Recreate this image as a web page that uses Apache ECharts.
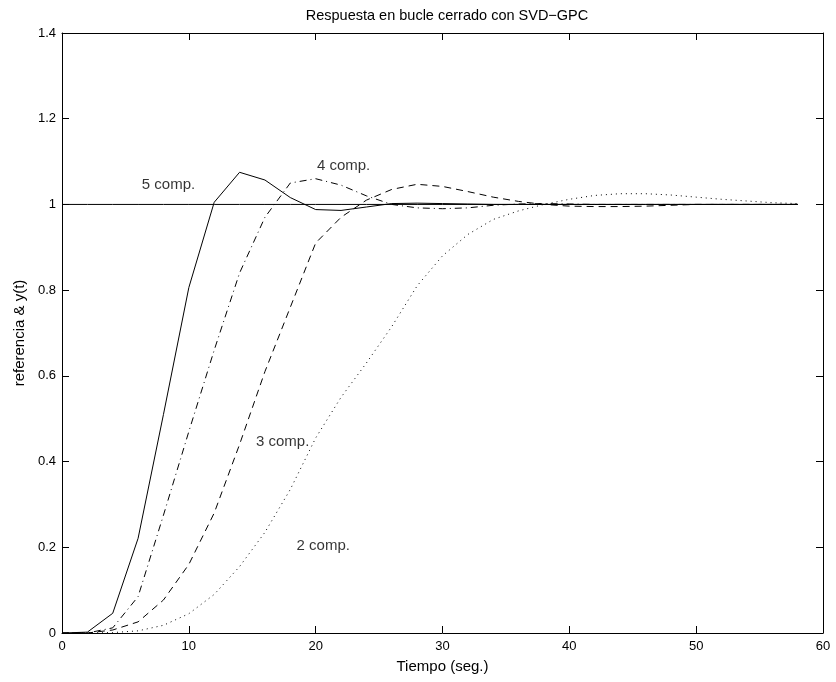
<!DOCTYPE html>
<html><head><meta charset="utf-8">
<script src="https://cdn.jsdelivr.net/npm/echarts@6/dist/echarts.min.js"></script>
<style>html,body{margin:0;padding:0;background:#fff}#c{width:836px;height:682px}</style>
</head><body><div id="c"></div>
<script>
const titleText = 'Respuesta en bucle cerrado con SVD\u2212GPC';
const xLabel = 'Tiempo (seg.)';
const yLabel = 'referencia & y(t)';
const time = [0,2,4,6,8,10,12,14,16,18,20,22,24,26,28,30,32,34,36,38,40,42,44,46,48,50,52,54,56,58];
const reference = [1,1,1,1,1,1,1,1,1,1,1,1,1,1,1,1,1,1,1,1,1,1,1,1,1,1,1,1,1,1];
const comp5 = [0,0.002,0.046,0.221,0.51,0.806,1.005,1.075,1.057,1.016,0.988,0.986,0.994,1.002,1.003,1.002,1.001,1.0,1.0,1.0,1.0,1.0,1.0,1.0,1.0,1.0,1.0,1.0,1.0,1.0];
const comp4 = [0,0,0.012,0.085,0.275,0.47,0.66,0.84,0.97,1.05,1.06,1.045,1.02,1.0,0.992,0.99,0.992,0.998,1.001,1.002,1.001,1.0,1.0,1.0,1.0,1.0,1.0,1.0,1.0,1.0];
const comp3 = [0,0,0.007,0.026,0.077,0.16,0.28,0.44,0.61,0.76,0.91,0.97,1.01,1.035,1.047,1.042,1.03,1.017,1.007,1.0,0.996,0.995,0.995,0.996,0.998,1.0,1.0,1.0,1.0,1.0];
const comp2 = [0,0,0.001,0.005,0.018,0.045,0.09,0.155,0.235,0.335,0.455,0.55,0.63,0.715,0.81,0.88,0.93,0.965,0.985,1.0,1.012,1.021,1.025,1.025,1.022,1.017,1.012,1.008,1.004,1.002];
const annotations = [
  {text:'5 comp.', t:8.4, v:1.045},
  {text:'4 comp.', t:22.2, v:1.089},
  {text:'3 comp.', t:17.4, v:0.447},
  {text:'2 comp.', t:20.6, v:0.204}
];
const xTicks = {min:0, max:60, interval:10};
const yTicks = {min:0, max:1.4, interval:0.2};

const font = 'Liberation Sans, Arial, Helvetica, sans-serif';
const pair = arr => time.map((t,i)=>[t,arr[i]]);
const lineSeries = (name, arr, type) => ({
  name, type:'line', data:pair(arr), symbol:'none', animation:false,
  lineStyle:{color:'#000', width:1, type:type}, z:3
});
const chart = echarts.init(document.getElementById('c'));
const axisCommon = {
  axisLine:{show:true, onZero:false, lineStyle:{color:'#000', width:1}},
  axisTick:{show:true, inside:true, length:7, lineStyle:{color:'#000'}},
  splitLine:{show:false},
};
chart.setOption({
  animation:false,
  backgroundColor:'#fff',
  title:{text:titleText, left:442, top:3, textAlign:'center',
    textStyle:{fontFamily:font, fontSize:14.5, fontWeight:'normal', color:'#000'}},
  grid:{left:62, right:13, top:33, bottom:49},
  xAxis:[
    Object.assign({type:'value', position:'bottom', min:xTicks.min, max:xTicks.max, interval:xTicks.interval,
      name:xLabel, nameLocation:'middle', nameGap:26,
      nameTextStyle:{fontFamily:font, fontSize:15, color:'#000'},
      axisLabel:{fontFamily:font, fontSize:13, color:'#000', margin:7}}, axisCommon),
    Object.assign({type:'value', position:'top', min:xTicks.min, max:xTicks.max, interval:xTicks.interval,
      axisLabel:{show:false}}, axisCommon)
  ],
  yAxis:[
    Object.assign({type:'value', position:'left', min:yTicks.min, max:yTicks.max, interval:yTicks.interval,
      name:yLabel, nameLocation:'middle', nameGap:34, nameRotate:90,
      nameTextStyle:{fontFamily:font, fontSize:15, color:'#000'},
      axisLabel:{fontFamily:font, fontSize:13, color:'#000', margin:6,
        formatter:v=>String(Math.round(v*10)/10)}}, axisCommon),
    Object.assign({type:'value', position:'right', min:yTicks.min, max:yTicks.max, interval:yTicks.interval,
      axisLabel:{show:false}}, axisCommon)
  ],
  series:[
    lineSeries('reference', reference, 'solid'),
    lineSeries('5 comp.', comp5, 'solid'),
    lineSeries('4 comp.', comp4, [7,4,1,4]),
    lineSeries('3 comp.', comp3, [7,5]),
    lineSeries('2 comp.', comp2, [1,4]),
    {type:'scatter', symbolSize:0, animation:false, z:5,
      data:annotations.map(a=>({value:[a.t,a.v], name:a.text})),
      label:{show:true, position:'inside', formatter:p=>p.name,
        fontFamily:font, fontSize:15, color:'#000'}}
  ]
});
</script></body></html>
